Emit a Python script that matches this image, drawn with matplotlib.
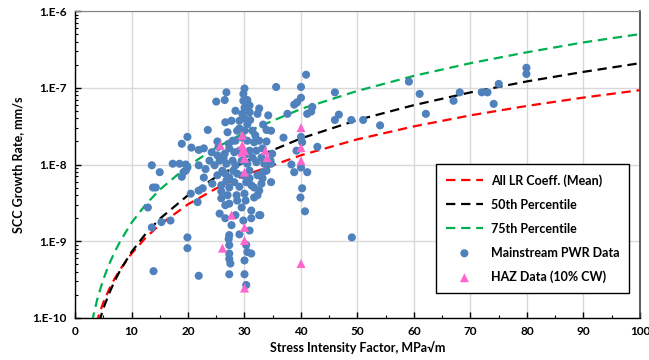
import matplotlib
matplotlib.use("Agg")
import matplotlib.pyplot as plt
from matplotlib.ticker import FixedLocator, FuncFormatter, MultipleLocator, LogLocator, NullFormatter
import numpy as np

plt.rcParams['font.family'] = ['Lato', 'DejaVu Sans']

# ---- model curves (K in MPa*sqrt(m), rate in mm/s) ----
curve_k = [3, 4, 5, 6, 7, 8, 10, 12.5, 15, 20, 25, 30, 40, 50, 60, 70, 80, 90, 100]
mean_rate = [5.5e-11, 9.8e-11, 1.58e-10, 2.33e-10, 3.24e-10, 4.3e-10, 6.9e-10, 1.11e-9, 1.64e-9,
             3.03e-9, 4.88e-9, 7.2e-9, 1.32e-8, 2.13e-8, 3.14e-8, 4.37e-8, 5.8e-8, 7.45e-8, 9.3e-8]
p50_rate = [3.7e-11, 7.6e-11, 1.32e-10, 2.06e-10, 3.01e-10, 4.19e-10, 7.24e-10, 1.25e-9, 1.96e-9,
            3.98e-9, 6.9e-9, 1.08e-8, 2.19e-8, 3.8e-8, 5.94e-8, 8.7e-8, 1.21e-7, 1.61e-7, 2.09e-7]
p75_rate = [9.0e-11, 1.82e-10, 3.17e-10, 4.94e-10, 7.2e-10, 1.0e-9, 1.74e-9, 3.0e-9, 4.7e-9,
            9.6e-9, 1.66e-8, 2.6e-8, 5.3e-8, 9.1e-8, 1.43e-7, 2.09e-7, 2.9e-7, 3.9e-7, 5.0e-7]

# ---- Mainstream PWR data: K and log10(rate) ----
pwr_k = [13.6, 15.0, 13.8, 14.3, 12.9, 13.6, 15.3, 16.9, 13.9, 21.9, 19.9, 19.9, 17.3, 18.9, 20.6,
         21.9, 19.6, 19.2, 20.5, 21.9, 21.7, 19.9, 23.5, 25.0, 26.5, 26.8, 26.6, 27.0, 22.8, 18.5,
         19.6, 18.9, 21.9, 23.1, 23.8, 22.8, 22.6, 25.2, 25.4, 30.0, 29.8, 30.5, 30.9, 30.0, 32.6,
         32.3, 29.6, 34.2, 35.6, 30.0, 31.0, 29.1, 30.0, 31.4, 33.9, 29.6, 32.6, 31.7, 27.2, 27.9,
         33.2, 32.1, 27.3, 24.2, 26.5, 28.2, 30.9, 34.9, 19.9, 25.6, 26.8, 27.9, 32.1, 33.5, 26.1,
         27.3, 28.7, 30.9, 32.3, 33.9, 34.7, 33.0, 24.3, 25.9, 27.3, 30.3, 31.7, 32.6, 25.9, 27.0,
         28.6, 30.0, 31.7, 25.9, 27.3, 29.5, 31.2, 32.6, 25.6, 31.2, 27.3, 27.2, 27.3, 30.3, 30.5,
         31.2, 27.3, 27.3, 30.0, 27.3, 30.0, 30.3, 28.2, 29.1, 26.8, 30.9, 40.9, 40.0, 46.0, 40.0,
         39.3, 38.8, 42.0, 41.8, 41.1, 37.6, 46.7, 46.0, 48.9, 51.0, 34.7, 36.9, 40.0, 40.2, 39.2,
         42.9, 34.6, 38.3, 40.0, 41.1, 40.2, 39.9, 40.7, 49.0, 33.9, 34.7, 38.8, 33.2, 32.8, 27.5,
         54.0, 59.1, 61.0, 62.1, 67.0, 68.1, 72.0, 73.0, 74.1, 75.0, 79.9, 79.9,
         25.2, 26.3, 28.4, 29.5, 30.5, 31.4, 29.1, 30.2, 28.4, 29.1, 28.4, 29.8, 30.5, 24.7, 25.2,
         26.6, 28.0, 29.8, 31.2, 32.3, 28.7, 26.6, 30.2, 28.4, 29.8, 27.7, 26.6, 30.9, 29.1, 33.3,
         33.0, 31.9, 30.5, 28.7, 27.7, 30.9, 33.3]
pwr_log_rate = [-8.01, -8.10, -8.30, -8.30, -8.56, -8.82, -8.75, -8.73, -9.39, -9.45, -8.95, -9.09,
                -7.99, -7.73, -7.78, -7.81, -8.00, -8.10, -8.38, -8.34, -8.49, -7.64, -7.55, -7.18,
                -7.16, -7.06, -7.45, -7.58, -7.79, -7.99, -8.08, -8.16, -8.01, -8.06, -7.95, -8.17,
                -8.31, -7.70, -7.77, -7.01, -7.08, -7.16, -7.23, -7.26, -7.27, -7.34, -7.34, -7.36,
                -6.99, -7.40, -7.42, -7.53, -7.56, -7.56, -7.55, -7.65, -7.69, -7.71, -7.73, -7.69,
                -7.79, -7.82, -7.79, -7.84, -7.86, -7.84, -7.82, -7.86, -8.04, -7.95, -7.99, -7.95,
                -7.97, -7.99, -8.08, -8.17, -8.12, -8.08, -8.14, -8.08, -8.23, -8.25, -8.25, -8.27,
                -8.30, -8.23, -8.30, -8.34, -8.35, -8.40, -8.40, -8.38, -8.43, -8.44, -8.51, -8.56,
                -8.60, -8.66, -8.64, -8.70, -8.92, -8.97, -9.05, -9.05, -9.14, -9.16, -9.16, -9.23,
                -9.25, -9.43, -9.43, -9.57, -8.23, -8.29, -8.21, -8.18, -6.83, -6.99, -7.06, -7.13,
                -7.19, -7.22, -7.25, -7.31, -7.34, -7.34, -7.35, -7.42, -7.42, -7.42, -7.56, -7.65,
                -7.64, -7.71, -7.82, -7.77, -7.95, -8.00, -8.04, -8.10, -8.31, -8.43, -8.61, -8.95,
                -7.70, -7.99, -8.10, -8.18, -8.66, -9.29,
                -7.49, -6.92, -7.08, -7.34, -7.17, -7.06, -7.06, -7.06, -7.21, -6.95, -6.74, -6.82,
                -7.88, -7.92, -8.01, -7.95, -7.99, -7.91, -7.82, -7.87, -7.69, -7.43, -7.30, -7.17,
                -7.48, -8.01, -8.14, -8.12, -8.08, -8.14, -8.27, -8.40, -8.47, -8.53, -8.47, -8.66,
                -8.73, -8.79, -8.70, -8.86, -8.91, -8.10, -7.91, -7.62, -7.69, -7.56, -7.43, -7.32,
                -7.48]

# ---- HAZ data (10% CW): K and log10(rate) ----
haz_k = [25.7, 29.6, 29.6, 29.5, 30.0, 30.0, 33.7, 34.0, 30.0, 27.7, 30.0, 30.0, 26.1, 40.0, 40.0,
         40.0, 40.0, 30.0]
haz_log_rate = [-7.75, -7.62, -7.75, -7.84, -7.92, -7.82, -7.82, -7.91, -8.10, -8.66, -8.82, -8.99,
                -9.09, -7.52, -7.78, -7.95, -9.29, -9.61]

fig = plt.figure(figsize=(6.49, 3.60), dpi=100)
ax = fig.add_axes([75/649, 1-318/360, 565/649, 307/360])

dash = (4.2, 2.6)
ax.plot(curve_k, mean_rate, color='#FF0000', lw=1.6, dashes=dash, label='All LR Coeff. (Mean)', zorder=3)
ax.plot(curve_k, p50_rate, color='#000000', lw=1.6, dashes=dash, label='50th Percentile', zorder=3)
ax.plot(curve_k, p75_rate, color='#00B050', lw=1.6, dashes=dash, label='75th Percentile', zorder=3)

ax.scatter(pwr_k, [10**v for v in pwr_log_rate], s=34, color='#4F81BD', edgecolors='none',
           label='Mainstream PWR Data', zorder=4)
ax.scatter(haz_k, [10**v for v in haz_log_rate], s=42, marker='^', color='#FF66CC', edgecolors='none',
           label='HAZ Data (10% CW)', zorder=5)

ax.set_yscale('log')
ax.set_xlim(0, 100)
ax.set_ylim(1e-10, 1e-6)

ax.xaxis.set_major_locator(MultipleLocator(10))
ax.xaxis.set_minor_locator(MultipleLocator(5))
ax.yaxis.set_major_locator(FixedLocator([1e-10, 1e-9, 1e-8, 1e-7, 1e-6]))
ax.yaxis.set_minor_locator(LogLocator(base=10, subs=np.arange(2, 10)))
ax.yaxis.set_minor_formatter(NullFormatter())

def yfmt(v, pos):
    e = int(round(np.log10(v)))
    return '1.E%d' % e
ax.yaxis.set_major_formatter(FuncFormatter(yfmt))

ax.grid(True, which='major', color='#D9D9D9', lw=1.0, zorder=0)
ax.set_axisbelow(True)

ax.tick_params(axis='both', which='major', direction='in', length=4, width=1,
               labelsize=8.5, colors='black', pad=6)
ax.tick_params(axis='both', which='minor', direction='in', length=2.5, width=0.8)
for lab in ax.get_xticklabels() + ax.get_yticklabels():
    lab.set_fontweight('bold')

for s in ['left', 'bottom']:
    ax.spines[s].set_color('black')
    ax.spines[s].set_linewidth(1.0)
ax.spines['top'].set_color('#808080')
ax.spines['right'].set_color('#404040')
ax.spines['right'].set_linewidth(1.2)

ax.set_xlabel('Stress Intensity Factor, MPa√m', fontsize=9, fontweight='bold', labelpad=3)
ax.set_ylabel('SCC Growth Rate, mm/s', fontsize=9, fontweight='bold', labelpad=6)

leg = ax.legend(loc='lower right', bbox_to_anchor=(0.981, 0.081), borderaxespad=0,
                frameon=True, fancybox=False, edgecolor='black', framealpha=1,
                prop={'size': 9, 'weight': 'bold'}, handlelength=3.0, labelspacing=0.95,
                borderpad=0.8, handletextpad=0.6)
leg.get_frame().set_linewidth(1.0)

fig.savefig('out.png', dpi=100)
